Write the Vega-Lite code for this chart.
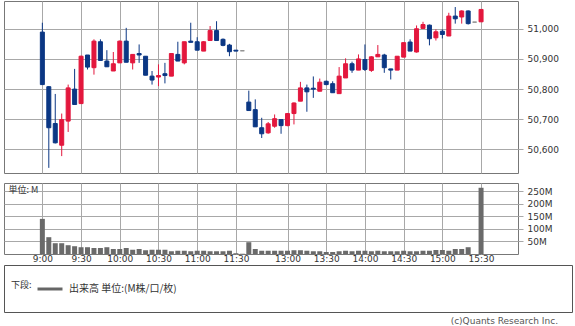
{
  "$schema": "https://vega.github.io/schema/vega-lite/v6.json",
  "padding": {"left": 3, "top": 0, "right": 0, "bottom": 0},
  "background": "white",
  "datasets": {
    "bars": [
      {"slot": 0, "o": 50989, "h": 51020, "l": 50815, "c": 50815, "v": 140},
      {"slot": 1, "o": 50808, "h": 50810, "l": 50539, "c": 50672, "v": 67},
      {"slot": 2, "o": 50686, "h": 50784, "l": 50620, "c": 50622, "v": 43},
      {"slot": 3, "o": 50614, "h": 50719, "l": 50578, "c": 50699, "v": 43},
      {"slot": 4, "o": 50694, "h": 50815, "l": 50658, "c": 50804, "v": 35},
      {"slot": 5, "o": 50800, "h": 50867, "l": 50749, "c": 50749, "v": 31},
      {"slot": 6, "o": 50752, "h": 50911, "l": 50752, "c": 50909, "v": 27},
      {"slot": 7, "o": 50913, "h": 50913, "l": 50865, "c": 50873, "v": 27},
      {"slot": 8, "o": 50871, "h": 50965, "l": 50848, "c": 50959, "v": 24},
      {"slot": 9, "o": 50957, "h": 50965, "l": 50895, "c": 50895, "v": 24},
      {"slot": 10, "o": 50893, "h": 50929, "l": 50874, "c": 50874, "v": 27},
      {"slot": 11, "o": 50860, "h": 50923, "l": 50860, "c": 50884, "v": 20},
      {"slot": 12, "o": 50887, "h": 50961, "l": 50887, "c": 50959, "v": 20},
      {"slot": 13, "o": 50959, "h": 51003, "l": 50889, "c": 50889, "v": 24},
      {"slot": 14, "o": 50887, "h": 50915, "l": 50865, "c": 50915, "v": 17},
      {"slot": 15, "o": 50918, "h": 50948, "l": 50887, "c": 50913, "v": 20},
      {"slot": 16, "o": 50909, "h": 50909, "l": 50846, "c": 50846, "v": 15},
      {"slot": 17, "o": 50843, "h": 50860, "l": 50815, "c": 50830, "v": 17},
      {"slot": 18, "o": 50840, "h": 50882, "l": 50810, "c": 50845, "v": 17},
      {"slot": 19, "o": 50851, "h": 50887, "l": 50819, "c": 50845, "v": 17},
      {"slot": 20, "o": 50843, "h": 50918, "l": 50843, "c": 50918, "v": 11},
      {"slot": 21, "o": 50915, "h": 50957, "l": 50893, "c": 50893, "v": 13},
      {"slot": 22, "o": 50887, "h": 50957, "l": 50882, "c": 50957, "v": 13},
      {"slot": 23, "o": 50959, "h": 51020, "l": 50955, "c": 50955, "v": 11},
      {"slot": 24, "o": 50957, "h": 50972, "l": 50929, "c": 50929, "v": 13},
      {"slot": 25, "o": 50926, "h": 50959, "l": 50926, "c": 50957, "v": 13},
      {"slot": 26, "o": 50961, "h": 51009, "l": 50961, "c": 50994, "v": 11},
      {"slot": 27, "o": 50994, "h": 51025, "l": 50961, "c": 50961, "v": 11},
      {"slot": 28, "o": 50965, "h": 50968, "l": 50942, "c": 50945, "v": 11},
      {"slot": 29, "o": 50946, "h": 50950, "l": 50909, "c": 50924, "v": 13},
      {"slot": 30, "o": 50929, "h": 50929, "l": 50926, "c": 50926, "v": 3},
      {"slot": 31, "o": 50927, "h": 50927, "l": 50927, "c": 50927, "v": 1},
      {"slot": 32, "o": 50757, "h": 50795, "l": 50729, "c": 50729, "v": 47},
      {"slot": 33, "o": 50732, "h": 50766, "l": 50675, "c": 50675, "v": 20},
      {"slot": 34, "o": 50672, "h": 50705, "l": 50638, "c": 50652, "v": 13},
      {"slot": 35, "o": 50655, "h": 50691, "l": 50652, "c": 50685, "v": 13},
      {"slot": 36, "o": 50677, "h": 50716, "l": 50672, "c": 50702, "v": 13},
      {"slot": 37, "o": 50699, "h": 50699, "l": 50652, "c": 50679, "v": 13},
      {"slot": 38, "o": 50679, "h": 50721, "l": 50677, "c": 50719, "v": 13},
      {"slot": 39, "o": 50719, "h": 50756, "l": 50683, "c": 50754, "v": 15},
      {"slot": 40, "o": 50760, "h": 50824, "l": 50760, "c": 50804, "v": 15},
      {"slot": 41, "o": 50804, "h": 50815, "l": 50725, "c": 50791, "v": 13},
      {"slot": 42, "o": 50803, "h": 50842, "l": 50771, "c": 50800, "v": 11},
      {"slot": 43, "o": 50793, "h": 50835, "l": 50793, "c": 50823, "v": 11},
      {"slot": 44, "o": 50826, "h": 50828, "l": 50813, "c": 50815, "v": 8},
      {"slot": 45, "o": 50818, "h": 50826, "l": 50788, "c": 50788, "v": 8},
      {"slot": 46, "o": 50785, "h": 50873, "l": 50785, "c": 50843, "v": 11},
      {"slot": 47, "o": 50837, "h": 50902, "l": 50837, "c": 50884, "v": 13},
      {"slot": 48, "o": 50884, "h": 50891, "l": 50854, "c": 50863, "v": 11},
      {"slot": 49, "o": 50863, "h": 50915, "l": 50863, "c": 50900, "v": 13},
      {"slot": 50, "o": 50898, "h": 50948, "l": 50860, "c": 50865, "v": 13},
      {"slot": 51, "o": 50862, "h": 50909, "l": 50857, "c": 50907, "v": 11},
      {"slot": 52, "o": 50907, "h": 50946, "l": 50907, "c": 50915, "v": 13},
      {"slot": 53, "o": 50913, "h": 50917, "l": 50854, "c": 50871, "v": 11},
      {"slot": 54, "o": 50867, "h": 50867, "l": 50832, "c": 50863, "v": 11},
      {"slot": 55, "o": 50863, "h": 50909, "l": 50863, "c": 50909, "v": 11},
      {"slot": 56, "o": 50906, "h": 50954, "l": 50906, "c": 50954, "v": 13},
      {"slot": 57, "o": 50956, "h": 50965, "l": 50926, "c": 50926, "v": 11},
      {"slot": 58, "o": 50923, "h": 51011, "l": 50921, "c": 51000, "v": 11},
      {"slot": 59, "o": 51001, "h": 51023, "l": 51001, "c": 51014, "v": 13},
      {"slot": 60, "o": 51012, "h": 51014, "l": 50945, "c": 50967, "v": 13},
      {"slot": 61, "o": 50970, "h": 50998, "l": 50961, "c": 50990, "v": 16},
      {"slot": 62, "o": 50992, "h": 50998, "l": 50968, "c": 50981, "v": 16},
      {"slot": 63, "o": 50976, "h": 51053, "l": 50976, "c": 51042, "v": 13},
      {"slot": 64, "o": 51042, "h": 51072, "l": 51017, "c": 51033, "v": 20},
      {"slot": 65, "o": 51039, "h": 51061, "l": 51017, "c": 51059, "v": 20},
      {"slot": 66, "o": 51059, "h": 51061, "l": 51014, "c": 51017, "v": 27},
      {"slot": 67, "o": 51022, "h": 51022, "l": 51022, "c": 51022, "v": 0},
      {"slot": 68, "o": 51023, "h": 51064, "l": 51023, "c": 51064, "v": 264}
    ]
  },
  "config": {
    "view": {"stroke": "#777", "strokeWidth": 1},
    "axis": {
      "labelFont": "DejaVu Sans",
      "labelFontSize": 9,
      "labelColor": "#333",
      "gridColor": "#a8a8a8",
      "gridOpacity": 1,
      "tickColor": "#a8a8a8",
      "title": null
    }
  },
  "resolve": {"scale": {"color": "independent"}, "legend": {"color": "independent"}},
  "vconcat": [
    {
      "vconcat": [
        {
          "width": 514,
          "height": 172,
          "data": {"name": "bars"},
          "encoding": {
            "x": {
              "field": "slot",
              "type": "quantitative",
              "scale": {"domain": [-5.17, 72.95], "nice": false, "zero": false},
              "axis": {
                "values": [0, 6, 12, 18, 24, 30, 38, 44, 50, 56, 62, 68],
                "labels": false, "ticks": false, "domain": false, "grid": true
              }
            }
          },
          "layer": [
            {
              "mark": {"type": "rule", "strokeWidth": 1},
              "encoding": {
                "y": {
                  "field": "l", "type": "quantitative",
                  "scale": {"domain": [50522, 51092], "nice": false, "zero": false},
                  "axis": {
                    "orient": "right",
                    "values": [50600, 50700, 50800, 50900, 51000],
                    "labelExpr": "format(datum.value, ',')",
                    "grid": true, "domain": false, "ticks": true, "tickSize": 5, "labelPadding": 4
                  }
                },
                "y2": {"field": "h"},
                "color": {
                  "condition": [
                    {"test": "datum.c > datum.o", "value": "#e3173d"},
                    {"test": "datum.c < datum.o", "value": "#0b3784"}
                  ],
                  "value": "#8a8a8a"
                }
              }
            },
            {
              "mark": {"type": "bar", "size": 4, "strokeWidth": 1},
              "encoding": {
                "y": {
                  "field": "o", "type": "quantitative",
                  "scale": {"domain": [50522, 51092], "nice": false, "zero": false},
                  "axis": {
                    "orient": "right",
                    "values": [50600, 50700, 50800, 50900, 51000],
                    "labelExpr": "format(datum.value, ',')",
                    "grid": true, "domain": false, "ticks": true, "tickSize": 5, "labelPadding": 4
                  }
                },
                "y2": {"field": "c"},
                "fill": {
                  "condition": [
                    {"test": "datum.c > datum.o", "value": "#e3173d"},
                    {"test": "datum.c < datum.o", "value": "#0b3784"}
                  ],
                  "value": "#8a8a8a"
                },
                "stroke": {
                  "condition": [
                    {"test": "datum.c > datum.o", "value": "#e3173d"},
                    {"test": "datum.c < datum.o", "value": "#0b3784"}
                  ],
                  "value": "#8a8a8a"
                }
              }
            }
          ]
        },
        {
          "width": 514,
          "height": 71,
          "data": {"name": "bars"},
          "mark": {"type": "bar", "size": 5, "color": "#6a6a6a"},
          "encoding": {
            "x": {
              "field": "slot",
              "type": "quantitative",
              "scale": {"domain": [-5.17, 72.95], "nice": false, "zero": false},
              "axis": {
                "values": [0, 6, 12, 18, 24, 30, 38, 44, 50, 56, 62, 68],
                "labelExpr": "['9:00','9:30','10:00','10:30','11:00','11:30','13:00','13:30','14:00','14:30','15:00','15:30'][indexof([0,6,12,18,24,30,38,44,50,56,62,68], datum.value)]",
                "ticks": false, "domain": false, "grid": true, "labelPadding": 0
              }
            },
            "y": {
              "field": "v", "type": "quantitative",
              "scale": {"domain": [0, 283], "nice": false},
              "axis": {
                "orient": "right",
                "values": [50, 100, 150, 200, 250],
                "labelExpr": "datum.value + 'M'",
                "grid": true, "domain": false, "ticks": true, "tickSize": 5, "labelPadding": 4,
                "title": "単位: M", "titleX": -510, "titleY": 6, "titleAngle": 0,
                "titleAlign": "left", "titleBaseline": "middle",
                "titleFont": "Noto Sans CJK JP", "titleFontSize": 9, "titleFontWeight": "normal",
                "titleColor": "#333"
              }
            }
          }
        }
      ],
      "spacing": 8
    },
    {
      "width": 568,
      "height": 47,
      "view": {"stroke": "#555"},
      "data": {"values": [{"series": "出来高 単位:(M株/口/枚)"}]},
      "mark": {"type": "point", "opacity": 0},
      "encoding": {
        "color": {
          "field": "series", "type": "nominal",
          "scale": {"range": ["#666666"]},
          "legend": {
            "orient": "none", "legendX": 7, "legendY": 10,
            "title": "下段:", "titleOrient": "left", "titleFont": "Noto Sans CJK JP",
            "titleFontSize": 9, "titleFontWeight": "normal", "titleColor": "#333", "titlePadding": 4,
            "labelFont": "Noto Sans CJK JP", "labelFontSize": 10, "labelColor": "#333",
            "symbolType": "stroke", "symbolStrokeWidth": 3, "symbolSize": 625,
            "symbolOpacity": 1, "symbolStrokeColor": "#666666", "labelOffset": 5
          }
        }
      },
      "title": {
        "text": "(c)Quants Research Inc.", "orient": "bottom", "anchor": "end",
        "font": "DejaVu Sans", "fontSize": 9, "fontWeight": "normal", "color": "#555",
        "offset": 5, "dx": -14
      }
    }
  ],
  "spacing": 0
}
